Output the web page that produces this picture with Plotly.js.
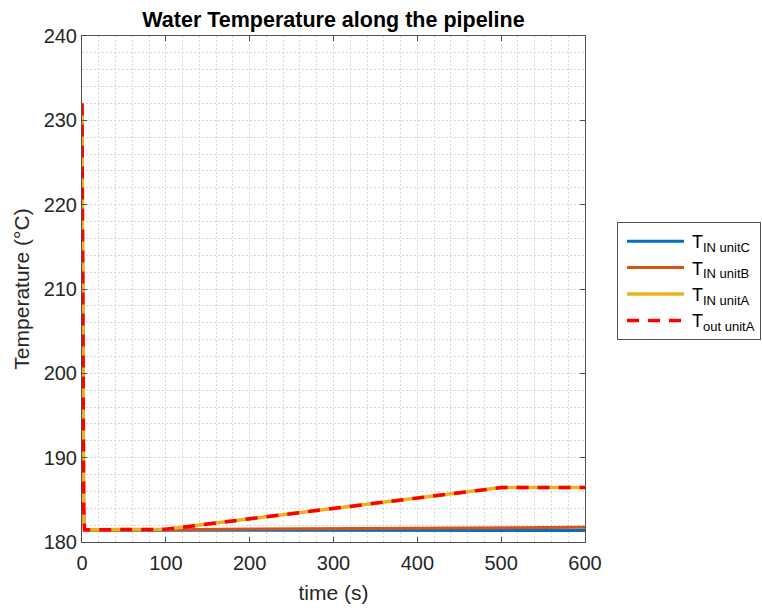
<!DOCTYPE html>
<html>
<head>
<meta charset="utf-8">
<script src="https://cdn.plot.ly/plotly-3.0.1.min.js"></script>
<style>
  html, body { margin: 0; padding: 0; background: #fff; }
  #chart { width: 762px; height: 608px; }
</style>
</head>
<body>
<div id="chart"></div>
<script>
// Time samples (s)
const time = [0, 1, 2, 3, 50, 95, 100, 200, 300, 400, 500, 600];

// Water temperatures (°C) at each sample
const tInUnitC = [232, 205, 184, 181.4, 181.4, 181.4, 181.4, 181.4, 181.38, 181.37, 181.36, 181.36];
const tInUnitB = [232, 205, 184, 181.4, 181.4, 181.42, 181.45, 181.53, 181.6, 181.68, 181.75, 181.75];
const tInUnitA = [232, 205, 184, 181.45, 181.45, 181.45, 181.5, 182.75, 184.0, 185.2, 186.45, 186.45];
const tOutUnitA = [232, 205, 184, 181.45, 181.45, 181.45, 181.5, 182.75, 184.0, 185.2, 186.45, 186.45];

const seriesLabels = ['IN unitC', 'IN unitB', 'IN unitA', 'out unitA'];

const xTicks = [0, 100, 200, 300, 400, 500, 600];
const yTicks = [180, 190, 200, 210, 220, 230, 240];

const FONT = 'Liberation Sans, Arial, sans-serif';
const textColor = '#262626';
const axisColor = '#505050';
const gridColor = '#d8d8d8';
const gridDash = '2px,2px';

// "T" with a subscript label
const legendName = s => 'T<sub><span style="font-size:13px">' + s + '</span></sub>';

const traces = [
  { x: time, y: tInUnitC, name: legendName(seriesLabels[0]), mode: 'lines',
    line: { color: '#0072BD', width: 3 } },
  { x: time, y: tInUnitB, name: legendName(seriesLabels[1]), mode: 'lines',
    line: { color: '#D95319', width: 3 } },
  { x: time, y: tInUnitA, name: legendName(seriesLabels[2]), mode: 'lines',
    line: { color: '#EDB120', width: 3.5 } },
  { x: time, y: tOutUnitA, name: legendName(seriesLabels[3]), mode: 'lines',
    line: { color: '#FF0000', width: 3.5, dash: '12px,9px' } }
];

const axisCommon = {
  showline: true,
  linecolor: axisColor,
  linewidth: 1,
  mirror: 'ticks',
  ticks: 'inside',
  ticklen: 5,
  tickcolor: axisColor,
  zeroline: false,
  showgrid: true,
  gridcolor: gridColor,
  griddash: gridDash,
  gridwidth: 1,
  tickfont: { family: FONT, size: 20, color: textColor }
};

const minorGrid = { showgrid: true, gridcolor: gridColor, griddash: gridDash, gridwidth: 1, ticks: '' };

const layout = {
  width: 762,
  height: 608,
  paper_bgcolor: '#ffffff',
  plot_bgcolor: '#ffffff',
  margin: { l: 82, r: 177, t: 36, b: 66, autoexpand: false },
  font: { family: FONT, color: textColor },
  title: {
    text: '<b>Water Temperature along the pipeline</b>',
    font: { family: FONT, size: 21.5, color: '#000000' },
    x: (82 + 585) / 2 / 762, xref: 'container', xanchor: 'center',
    y: 1 - 19 / 608, yref: 'container', yanchor: 'middle'
  },
  xaxis: Object.assign({}, axisCommon, {
    range: [0, 600],
    tickvals: xTicks,
    ticktext: xTicks.map(String),
    ticklabelstandoff: 3,
    minor: Object.assign({ dtick: 20, tick0: 0 }, minorGrid),
    title: { text: 'time (s)', font: { family: FONT, size: 21, color: textColor }, standoff: 12 }
  }),
  yaxis: Object.assign({}, axisCommon, {
    range: [180, 240],
    tickvals: yTicks,
    ticktext: yTicks.map(String),
    minor: Object.assign({ dtick: 2, tick0: 180 }, minorGrid),
    title: { text: 'Temperature (°C)', font: { family: FONT, size: 21, color: textColor }, standoff: 8 }
  }),
  showlegend: true,
  legend: {
    x: (617 - 82) / 503, xanchor: 'left',
    y: (542 - 222) / 506, yanchor: 'top',
    bgcolor: '#ffffff',
    bordercolor: axisColor,
    borderwidth: 1,
    itemwidth: 64,
    tracegroupgap: 0,
    font: { family: FONT, size: 18, color: '#000000' }
  }
};

Plotly.newPlot('chart', traces, layout, { displayModeBar: false, staticPlot: true }).then(gd => {
  // longer legend sample lines
  gd.querySelectorAll('.legend .legendlines path').forEach(p => p.setAttribute('d', 'M9,0h57'));
});
</script>
</body>
</html>
